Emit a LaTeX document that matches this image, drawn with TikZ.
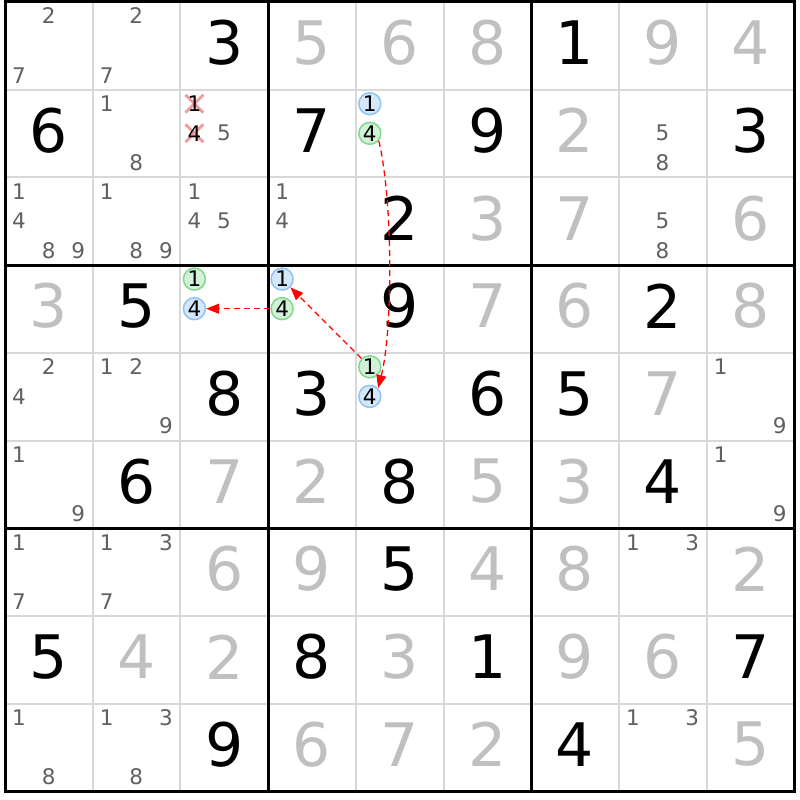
\documentclass[tikz,border=0pt]{standalone}
\usepackage{fontspec}
\setmainfont{DejaVu Sans}
\usetikzlibrary{arrows.meta,shapes.misc}
\definecolor{solvedgray}{HTML}{C0C0C0}
\definecolor{candgray}{HTML}{606060}
\definecolor{thingray}{HTML}{D8D8D8}
\definecolor{bfill}{HTML}{D5E8FA}
\definecolor{bline}{HTML}{8EC3F2}
\definecolor{gfill}{HTML}{D3F1D7}
\definecolor{gline}{HTML}{7ED88E}
\definecolor{xred}{HTML}{F29B9B}
\newcommand\cellsz{87.7}
\newcommand\candpos[3]{%
  \pgfmathsetmacro\pcx{5+(#2-1)*\cellsz+14+mod(#3-1,3)*29.6}%
  \pgfmathsetmacro\pcy{2+(#1-1)*\cellsz+14+floor((#3-1)/3)*29.6}}
\newcommand\Gv[3]{\node[given] (g#1#2) at ({5+(#2-0.5)*\cellsz},{2+(#1-0.5)*\cellsz-3}) {#3};}
\newcommand\Sv[3]{\node[solved] (g#1#2) at ({5+(#2-0.5)*\cellsz},{2+(#1-0.5)*\cellsz-3}) {#3};}
\newcommand\Cn[3]{\foreach \dg in {#3}{\candpos{#1}{#2}{\dg}\node[cnd] (c#1#2\dg) at (\pcx,\pcy) {\dg};}}
\newcommand\Cb[3]{\candpos{#1}{#2}{#3}\node[bcirc] (c#1#2#3) at (\pcx,\pcy) {#3};}
\newcommand\Cg[3]{\candpos{#1}{#2}{#3}\node[gcirc] (c#1#2#3) at (\pcx,\pcy) {#3};}
\newcommand\Cx[3]{\candpos{#1}{#2}{#3}\node[xmark] (x#1#2#3) at (\pcx,\pcy) {};\node[cnd,text=black] (c#1#2#3) at (\pcx,\pcy) {#3};}
\tikzset{
  given/.style={font=\fontsize{60}{62}\selectfont, text=black, inner sep=0pt},
  solved/.style={given, text=solvedgray},
  cnd/.style={font=\fontsize{21.5}{23}\selectfont, text=candgray, inner sep=0pt},
  bcirc/.style={circle, draw=bline, fill=bfill, line width=1.5pt, minimum size=22pt, inner sep=0pt, font=\fontsize{21.5}{23}\selectfont, text=black},
  gcirc/.style={bcirc, draw=gline, fill=gfill},
  xmark/.style={cross out, draw=xred, line width=2.8pt, minimum size=15pt, inner sep=0pt},
  link/.style={draw=red, line width=1.3pt, dash pattern=on 6pt off 4pt, -{Triangle[length=13pt,width=10pt,fill=red]}},
  thinline/.style={thingray, line width=2pt},
  thickline/.style={black, line width=3pt}
}
\begin{document}
\begin{tikzpicture}[x=1pt,y=-1pt]
\useasboundingbox (0,0) rectangle (800,800);
\fill[white] (0,0) rectangle (800,800);
\foreach \i in {1,2,4,5,7,8}{
  \draw[thinline] ({5+\i*\cellsz},2) -- ({5+\i*\cellsz},{2+9*\cellsz});
  \draw[thinline] (5,{2+\i*\cellsz}) -- ({5+9*\cellsz},{2+\i*\cellsz});
}
\foreach \i in {0,3,6,9}{
  \draw[thickline] ({5+\i*\cellsz},0.5) -- ({5+\i*\cellsz},{3.5+9*\cellsz});
  \draw[thickline] (3.5,{2+\i*\cellsz}) -- ({6.5+9*\cellsz},{2+\i*\cellsz});
}
% row 1
\Cn{1}{1}{2,7}\Cn{1}{2}{2,7}\Gv{1}{3}{3}\Sv{1}{4}{5}\Sv{1}{5}{6}\Sv{1}{6}{8}\Gv{1}{7}{1}\Sv{1}{8}{9}\Sv{1}{9}{4}
% row 2
\Gv{2}{1}{6}\Cn{2}{2}{1,8}\Cx{2}{3}{1}\Cx{2}{3}{4}\Cn{2}{3}{5}\Gv{2}{4}{7}\Cb{2}{5}{1}\Cg{2}{5}{4}\Gv{2}{6}{9}\Sv{2}{7}{2}\Cn{2}{8}{5,8}\Gv{2}{9}{3}
% row 3
\Cn{3}{1}{1,4,8,9}\Cn{3}{2}{1,8,9}\Cn{3}{3}{1,4,5}\Cn{3}{4}{1,4}\Gv{3}{5}{2}\Sv{3}{6}{3}\Sv{3}{7}{7}\Cn{3}{8}{5,8}\Sv{3}{9}{6}
% row 4
\Sv{4}{1}{3}\Gv{4}{2}{5}\Cg{4}{3}{1}\Cb{4}{3}{4}\Cb{4}{4}{1}\Cg{4}{4}{4}\Gv{4}{5}{9}\Sv{4}{6}{7}\Sv{4}{7}{6}\Gv{4}{8}{2}\Sv{4}{9}{8}
% row 5
\Cn{5}{1}{2,4}\Cn{5}{2}{1,2,9}\Gv{5}{3}{8}\Gv{5}{4}{3}\Cg{5}{5}{1}\Cb{5}{5}{4}\Gv{5}{6}{6}\Gv{5}{7}{5}\Sv{5}{8}{7}\Cn{5}{9}{1,9}
% row 6
\Cn{6}{1}{1,9}\Gv{6}{2}{6}\Sv{6}{3}{7}\Sv{6}{4}{2}\Gv{6}{5}{8}\Sv{6}{6}{5}\Sv{6}{7}{3}\Gv{6}{8}{4}\Cn{6}{9}{1,9}
% row 7
\Cn{7}{1}{1,7}\Cn{7}{2}{1,3,7}\Sv{7}{3}{6}\Sv{7}{4}{9}\Gv{7}{5}{5}\Sv{7}{6}{4}\Sv{7}{7}{8}\Cn{7}{8}{1,3}\Sv{7}{9}{2}
% row 8
\Gv{8}{1}{5}\Sv{8}{2}{4}\Sv{8}{3}{2}\Gv{8}{4}{8}\Sv{8}{5}{3}\Gv{8}{6}{1}\Sv{8}{7}{9}\Sv{8}{8}{6}\Gv{8}{9}{7}
% row 9
\Cn{9}{1}{1,8}\Cn{9}{2}{1,3,8}\Gv{9}{3}{9}\Sv{9}{4}{6}\Sv{9}{5}{7}\Sv{9}{6}{2}\Gv{9}{7}{4}\Cn{9}{8}{1,3}\Sv{9}{9}{5}
% links
\draw[link] (c254.-40) .. controls (393,200) and (393,330) .. (c554.45);
\draw[link] (c551) -- (c441);
\draw[link] (c444) -- (c434);
\end{tikzpicture}
\end{document}
